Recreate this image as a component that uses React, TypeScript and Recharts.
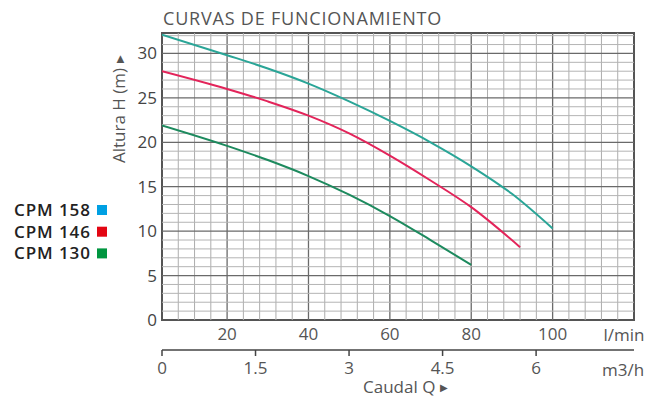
import React from 'react';
import { ComposedChart, Line, XAxis, YAxis, ReferenceLine, ReferenceArea } from 'recharts';

// Flow (l/min) and head (m) readings for each pump curve
const qCpm158 = [4, 20, 30, 40, 50, 60, 70, 80, 90, 100];
const hCpm158 = [32.1, 29.8, 28.3, 26.6, 24.6, 22.4, 20.0, 17.3, 14.2, 10.3];

const qCpm146 = [4, 20, 30, 40, 50, 60, 70, 80, 92];
const hCpm146 = [28.0, 26.0, 24.6, 23.0, 21.0, 18.5, 15.7, 12.7, 8.2];

const qCpm130 = [4, 20, 30, 40, 50, 60, 70, 80];
const hCpm130 = [21.9, 19.6, 18.0, 16.2, 14.1, 11.7, 9.0, 6.2];

const seriesNames = ['CPM 158', 'CPM 146', 'CPM 130'];
const lineColors = ['#2aa597', '#e3245a', '#1d8a5e'];
const legendColors = ['#00a0e3', '#e30613', '#009640'];

const lminTicks = [20, 40, 60, 80, 100];
const m3hTicks = [0, 1.5, 3, 4.5, 6];
const hTicks = [0, 5, 10, 15, 20, 25, 30];

const qDomain: [number, number] = [4, 120];
const m3hDomain: [number, number] = [0, 7.57];
const hDomain: [number, number] = [0, 32.3];

const gridQ: number[] = [];
for (let v = 8; v < 120; v += 4) gridQ.push(v);
const gridH: number[] = [];
for (let v = 1; v <= 32; v += 1) gridH.push(v);

const toData = (q: number[], h: number[]) => q.map((v, i) => ({ q: v, h: h[i] }));
const datasets = [toData(qCpm158, hCpm158), toData(qCpm146, hCpm146), toData(qCpm130, hCpm130)];

const FONT = '"Open Sans", "Noto Sans", sans-serif';

export default function App() {
  return (
    <div style={{ position: 'absolute', left: 0, top: 0, width: 668, height: 397, background: '#fff' }}>
      <ComposedChart width={668} height={397} margin={{ top: 33, right: 34, bottom: 7, left: 122 }}>
        <XAxis
          xAxisId="lmin"
          type="number"
          dataKey="q"
          domain={qDomain}
          ticks={lminTicks}
          allowDataOverflow
          axisLine={false}
          tickLine={false}
          tickSize={0}
          tickMargin={8}
          height={30}
          tick={{ fill: '#555', fontSize: 17, fontFamily: FONT }}
        />
        <XAxis
          xAxisId="m3"
          type="number"
          dataKey="q"
          domain={m3hDomain}
          ticks={m3hTicks}
          allowDataOverflow
          axisLine={{ stroke: '#444', strokeWidth: 1.5 }}
          tickLine={{ stroke: '#444', strokeWidth: 1.5 }}
          tickSize={6}
          tickMargin={6}
          height={40}
          tick={{ fill: '#555', fontSize: 17, fontFamily: FONT }}
        />
        <YAxis
          yAxisId="h"
          type="number"
          domain={hDomain}
          ticks={hTicks}
          allowDataOverflow
          axisLine={false}
          tickLine={false}
          tickSize={0}
          tickMargin={5}
          width={40}
          tick={{ fill: '#444', fontSize: 17, fontFamily: FONT }}
        />
        {gridQ.map((v) => (
          <ReferenceLine
            key={'gq' + v}
            xAxisId="lmin"
            yAxisId="h"
            x={v}
            stroke={v % 20 === 0 ? '#6a6a6a' : '#adadad'}
            strokeWidth={v % 20 === 0 ? 1.3 : 1}
          />
        ))}
        {gridH.map((v) => (
          <ReferenceLine
            key={'gh' + v}
            xAxisId="lmin"
            yAxisId="h"
            y={v}
            stroke={v % 5 === 0 ? '#6a6a6a' : '#b4b4b4'}
            strokeWidth={v % 5 === 0 ? 1.3 : 1}
          />
        ))}
        <ReferenceArea
          xAxisId="lmin"
          yAxisId="h"
          x1={qDomain[0]}
          x2={qDomain[1]}
          y1={hDomain[0]}
          y2={hDomain[1]}
          fill="none"
          fillOpacity={0}
          stroke="#555"
          strokeWidth={2}
        />
        {datasets.map((d, i) => (
          <Line
            key={seriesNames[i]}
            name={seriesNames[i]}
            xAxisId="lmin"
            yAxisId="h"
            data={d}
            dataKey="h"
            type="monotone"
            stroke={lineColors[i]}
            strokeWidth={2}
            dot={false}
            activeDot={false}
            isAnimationActive={false}
          />
        ))}
      </ComposedChart>
      <svg
        width={668}
        height={397}
        style={{ position: 'absolute', left: 0, top: 0, pointerEvents: 'none' }}
        fontFamily={FONT}
      >
        <text x={163} y={25} fontSize={18} fill="#555" letterSpacing={0.8}>
          CURVAS DE FUNCIONAMIENTO
        </text>
        <text transform="translate(125,163) rotate(-90)" fontSize={17} fill="#555">
          Altura H (m)
          <tspan fontSize={10} dx={5} dy={-2}>▶</tspan>
        </text>
        <text x={624} y={341} fontSize={17} fill="#555" textAnchor="middle">l/min</text>
        <text x={623} y={376} fontSize={17} fill="#555" textAnchor="middle">m3/h</text>
        <text x={363} y={393} fontSize={17} fill="#555">
          Caudal Q
          <tspan fontSize={10} dx={5} dy={-2}>▶</tspan>
        </text>
        {seriesNames.map((n, i) => (
          <g key={n}>
            <text x={14} y={216 + i * 21.7} fontSize={17} fontWeight={600} fill="#222" letterSpacing={0.9}>
              {n}
            </text>
            <rect x={97} y={205 + i * 21.7} width={10} height={10} fill={legendColors[i]} />
          </g>
        ))}
      </svg>
    </div>
  );
}
